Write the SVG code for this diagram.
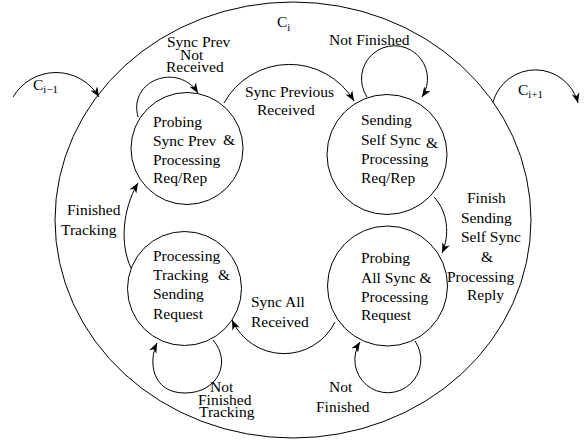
<svg xmlns="http://www.w3.org/2000/svg" width="585" height="444" viewBox="0 0 585 444" font-family="'Liberation Serif', Tinos, 'Times New Roman', 'DejaVu Serif', serif">
<style>
.s{fill:none;stroke:#000;stroke-width:1}
.e{fill:none;stroke:#000;stroke-width:1;marker-end:url(#ah)}
text{font-family:'Liberation Serif', Tinos, 'Times New Roman', 'DejaVu Serif', serif;font-size:15.5px;fill:#000}
.sub{font-size:11px}
</style>
<defs>
<marker id="ah" viewBox="0 0 10 8" refX="10" refY="4" markerWidth="10" markerHeight="8" markerUnits="userSpaceOnUse" orient="auto"><path d="M0,0 L10,4 L0,8 L3,4 z" fill="#000"/></marker>
</defs>
<rect width="585" height="444" fill="#fff"/>
<g id="cluster">
<ellipse class="s" cx="293" cy="220" rx="238" ry="218"/>
<text x="277" y="27">C<tspan class="sub" dy="4">i</tspan></text>
</g>
<g id="state-probing-sync-prev">
<circle class="s" cx="187" cy="148.5" r="56"/>
<text x="153" y="127">Probing</text>
<text x="153" y="146">Sync Prev</text>
<text x="223" y="145">&amp;</text>
<text x="153" y="165">Processing</text>
<text x="153" y="183">Req/Rep</text>
</g>
<g id="state-sending-self-sync">
<circle class="s" cx="387" cy="154.5" r="60"/>
<text x="361" y="125">Sending</text>
<text x="361" y="145">Self Sync</text>
<text x="426" y="148">&amp;</text>
<text x="361" y="164">Processing</text>
<text x="361" y="183">Req/Rep</text>
</g>
<g id="state-processing-tracking">
<circle class="s" cx="184.5" cy="288.5" r="57"/>
<text x="153" y="261">Processing</text>
<text x="153" y="280">Tracking</text>
<text x="218" y="280">&amp;</text>
<text x="153" y="299">Sending</text>
<text x="153" y="319">Request</text>
</g>
<g id="state-probing-all-sync">
<circle class="s" cx="387.5" cy="286" r="60"/>
<text x="361" y="263">Probing</text>
<text x="361" y="283">All Sync &amp;</text>
<text x="361" y="302">Processing</text>
<text x="361" y="320">Request</text>
</g>
<g id="connectors">
<path class="e" d="M13,97 A50,50 0 0 1 99,97"/>
<path class="e" d="M493,102 A44,44 0 0 1 578,103"/>
<path class="e" d="M138,117 C128,80 178,62 198,93"/>
<path class="e" d="M224,103 A75,75 0 0 1 354,101"/>
<path class="e" d="M367,97 A33,33 0 1 1 422,97"/>
<path class="e" d="M434,197 C448,212 450,235 442,253"/>
<path class="e" d="M335,322 A57,57 0 0 1 232,320"/>
<path class="e" d="M415,341 A33,33 0 1 1 360,342"/>
<path class="e" d="M213,340 C232,362 218,393 185,393 C152,393 148,362 157,343"/>
<path class="e" d="M131,268 C120,245 122,210 138,183"/>
</g>
<g id="labels">
<text x="33" y="90">C<tspan class="sub" dy="3">i−1</tspan></text>
<text x="518" y="95">C<tspan class="sub" dy="3">i+1</tspan></text>
<text x="167" y="47">Sync Prev</text>
<text x="180" y="60">Not</text>
<text x="166" y="72">Received</text>
<text x="245" y="97">Sync Previous</text>
<text x="257" y="115">Received</text>
<text x="329" y="45">Not Finished</text>
<text x="467" y="203">Finish</text>
<text x="461" y="223">Sending</text>
<text x="461" y="242">Self Sync</text>
<text x="481" y="262">&amp;</text>
<text x="447" y="282">Processing</text>
<text x="467" y="300">Reply</text>
<text x="251" y="307">Sync All</text>
<text x="251" y="327">Received</text>
<text x="67" y="215">Finished</text>
<text x="61" y="235">Tracking</text>
<text x="210" y="392">Not</text>
<text x="198" y="405">Finished</text>
<text x="199" y="417">Tracking</text>
<text x="329" y="392">Not</text>
<text x="316" y="412">Finished</text>
</g>
</svg>
